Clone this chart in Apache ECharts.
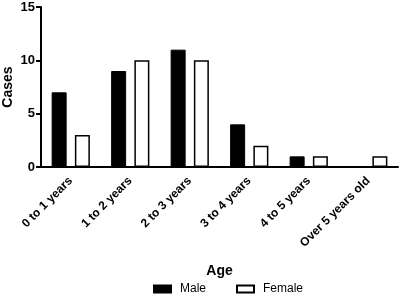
<!DOCTYPE html>
<html>
<head>
<meta charset="utf-8">
<script src="https://cdn.jsdelivr.net/npm/echarts@6/dist/echarts.min.js"></script>
<style>
  html, body { margin: 0; padding: 0; background: #fff; }
  #chart { width: 400px; height: 296px; }
</style>
</head>
<body>
<div id="chart"></div>
<script>
const categories = ['0 to 1 years', '1 to 2 years', '2 to 3 years', '3 to 4 years', '4 to 5 years', 'Over 5 years old'];
const male = [7, 9, 11, 4, 1, 0];
const female = [3, 10, 10, 2, 1, 1];
const yTicks = [0, 5, 10, 15];

const font = 'Liberation Sans, Arial, sans-serif';
const chart = echarts.init(document.getElementById('chart'));

chart.setOption({
    animation: false,
    grid: { left: 41, right: 2, top: 7, bottom: 129, outerBoundsMode: 'none', containLabel: false },
    legend: {
        top: 283,
        left: 153,
        padding: 0,
        icon: 'rect',
        itemWidth: 17,
        itemHeight: 7,
        itemGap: 30,
        textStyle: { fontFamily: font, fontSize: 12, color: '#000', padding: [0, 0, 0, 4] },
        data: ['Male', 'Female']
    },
    xAxis: {
        type: 'category',
        data: categories,
        name: 'Age',
        nameLocation: 'middle',
        nameGap: 97,
        nameMoveOverlap: false,
        nameTextStyle: { fontFamily: font, fontSize: 14, fontWeight: 'bold', color: '#000' },
        axisLine: { lineStyle: { color: '#000', width: 2 } },
        axisTick: { alignWithLabel: true, length: 5, lineStyle: { color: '#000', width: 2 } },
        axisLabel: {
            rotate: 45,
            fontFamily: font,
            fontSize: 12,
            fontWeight: 'bold',
            color: '#000',
            margin: 12,
            interval: 0
        }
    },
    yAxis: {
        type: 'value',
        min: 0,
        max: 15,
        interval: 5,
        name: 'Cases',
        nameLocation: 'middle',
        nameGap: 26,
        nameMoveOverlap: false,
        nameTextStyle: { fontFamily: font, fontSize: 14, fontWeight: 'bold', color: '#000' },
        axisLine: { show: true, lineStyle: { color: '#000', width: 2 } },
        axisTick: { show: true, length: 5, lineStyle: { color: '#000', width: 2 } },
        splitLine: { show: false },
        axisLabel: {
            fontFamily: font,
            fontSize: 13,
            fontWeight: 'bold',
            color: '#000',
            margin: 6,
            formatter: v => yTicks.includes(v) ? String(v) : ''
        }
    },
    series: [
        {
            name: 'Male',
            type: 'bar',
            data: male,
            barWidth: 15,
            barGap: '55%',
            itemStyle: { color: '#000', borderColor: '#000', borderWidth: 1 }
        },
        {
            name: 'Female',
            type: 'bar',
            data: female,
            barWidth: 15,
            itemStyle: { color: '#fff', borderColor: '#000', borderWidth: 1.5 }
        }
    ]
});
</script>
</body>
</html>
